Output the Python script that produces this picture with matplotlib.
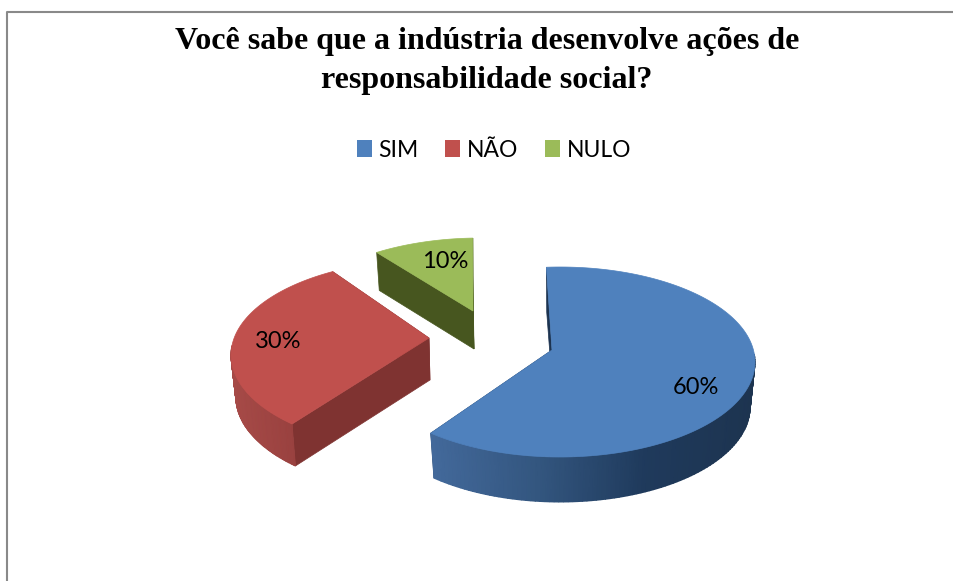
"""
Exploded 3D pie: industry social responsibility survey
"""

import numpy as np
import matplotlib
matplotlib.use("Agg")
import matplotlib.pyplot as plt
from matplotlib.colors import LinearSegmentedColormap
from matplotlib.patches import Patch

TITLE = "Você sabe que a indústria desenvolve ações de\nresponsabilidade social?"
CATEGORIES = ["SIM", "NÃO", "NULO"]
VALUES = [60, 30, 10]

# Look of each slice, pixel units of the 954x581 canvas
TOP_COLORS = ["#4f81bd", "#c0504d", "#9bbb59"]
CUT_COLORS = ["#1c3350", "#7f3331", "#47561f"]
RIM_COLORS = [["#43699b", "#33567f", "#1f3a5c", "#1d3450"],
              ["#a64a47", "#9c4341", "#8f3b39"],
              ["#47561f", "#47561f"]]
CENTERS = [(560, 362), (426, 355), (480, 333)]
APEXES = [(552, 350), (429, 338), (473, 311)]
START_ANGLES = [-4, 223.4, 328]
# perspective squeezes or stretches the slices a bit
ANGLE_STRETCH = [1.044, 1.0, 0.83]
DEPTHS = [45, 42, 38]
LABEL_POS = [(696, 387), (278, 341), (445, 262)]
RADIUS_X = 195
RADIUS_Y = 95
BOTTOM_SCALE = 0.975


def draw_slice(ax, i):
    """
    Draws one slice: cut walls and rim wall first, top face on top of them

    Args:
        ax: The axes, in canvas pixels
        i: Index of the slice
    """
    cx, cy = CENTERS[i]
    ax_x, ax_y = APEXES[i]
    depth = DEPTHS[i]
    span = VALUES[i] * 360 / sum(VALUES) * ANGLE_STRETCH[i]
    theta = np.radians(np.linspace(START_ANGLES[i], START_ANGLES[i] + span, 160))
    rim_x = cx + RADIUS_X * np.sin(theta)
    rim_y = cy - RADIUS_Y * np.cos(theta)
    low_x = cx + (rim_x - cx) * BOTTOM_SCALE
    low_y = rim_y + depth
    base = i * -3

    # Cut walls
    for k in [0, -1]:
        ax.fill([ax_x, rim_x[k], low_x[k], ax_x + 1], [ax_y, rim_y[k], low_y[k], ax_y + depth],
                color=CUT_COLORS[i], lw=0.5, zorder=2 + base)

    # Rim wall, shaded from left to right. Back part stays hidden, so it is left out
    cmap = LinearSegmentedColormap.from_list("rim", RIM_COLORS[i])
    front = rim_y >= cy - 10
    shade = (rim_x - rim_x.min()) / (rim_x.max() - rim_x.min())
    if front.sum() > 1:
        ax.pcolormesh(np.vstack([rim_x[front], low_x[front]]),
                      np.vstack([rim_y[front], low_y[front]]),
                      np.vstack([shade[front], shade[front]]), shading="gouraud", cmap=cmap,
                      vmin=0, vmax=1, zorder=3 + base)

    # Top face
    ax.fill(np.r_[ax_x, rim_x], np.r_[ax_y, rim_y], color=TOP_COLORS[i], lw=0.5,
            zorder=4 + base)

    label_x, label_y = LABEL_POS[i]
    ax.text(label_x, label_y, f"{VALUES[i]}%", ha="center", va="center", fontsize=17,
            family="Lato", color="black", zorder=10)


fig = plt.figure(figsize=(9.54, 5.81), dpi=100)
ax = fig.add_axes([0, 0, 1, 1])

# Chart border, only left and top fall inside the picture
ax.plot([7, 7, 954], [581, 12, 12], color="#898989", lw=1.5, zorder=1)

ax.text(487, 61, TITLE, ha="center", va="center", fontsize=23, family="Liberation Serif",
        weight="bold", linespacing=1.41, color="black")

for i in [2, 1, 0]:
    draw_slice(ax, i)

ax.set_xlim(0, 954)
ax.set_ylim(581, 0)
ax.axis("off")

handles = [Patch(color=c, lw=0) for c in TOP_COLORS]
ax.legend(handles, CATEGORIES, loc="center", bbox_to_anchor=(494 / 954, 1 - 150 / 581), ncol=3,
          frameon=False, prop={"family": "Lato", "size": 16.5}, handlelength=0.65,
          handleheight=0.72, handletextpad=0.3, columnspacing=1.15, labelcolor="black")

fig.savefig("out.png", dpi=100)
